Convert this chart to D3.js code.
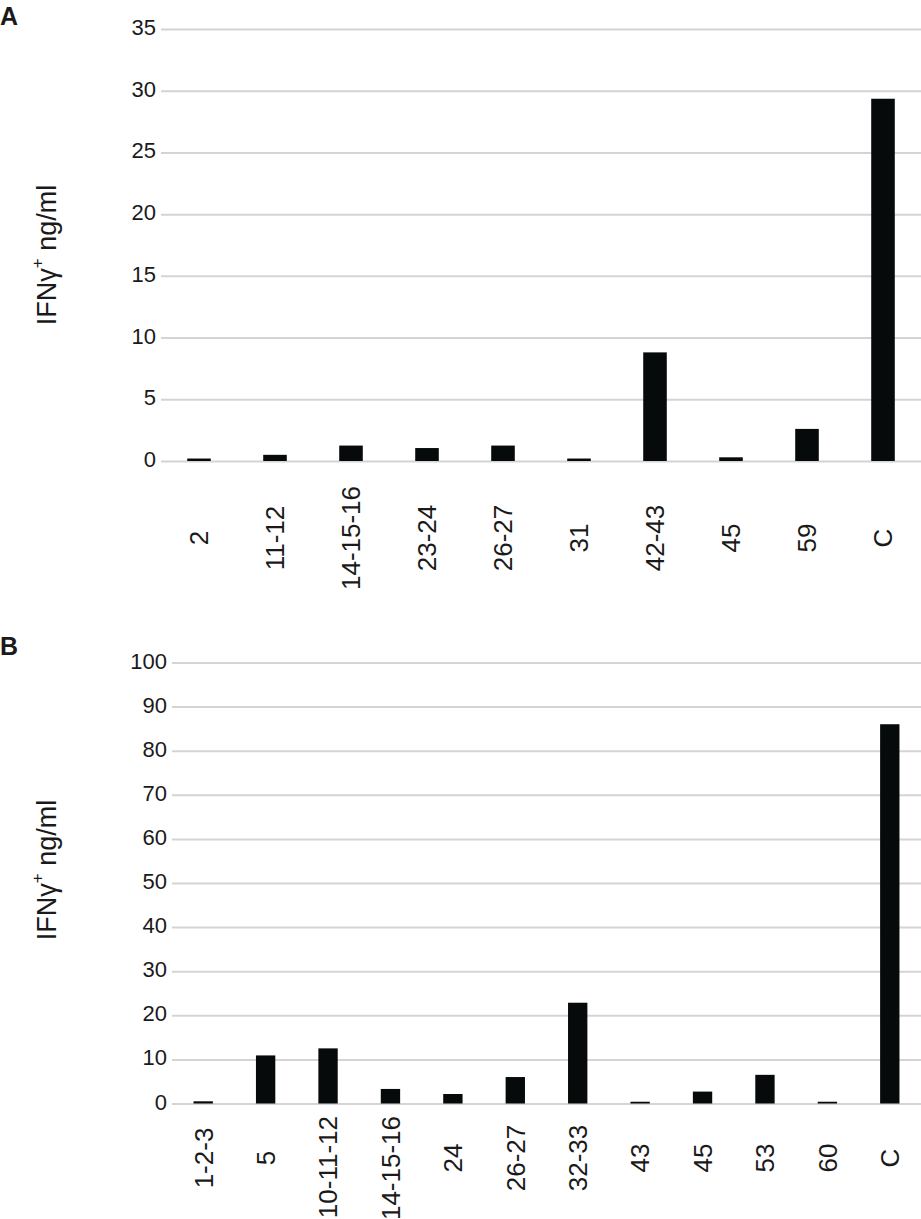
<!DOCTYPE html>
<html>
<head>
<meta charset="utf-8">
<script src="https://cdn.jsdelivr.net/npm/d3@7"></script>
<style>
  html, body { margin: 0; padding: 0; background: #fff; }
  svg { display: block; }
  text { font-family: "Liberation Sans", Arial, Helvetica, sans-serif; fill: #1a1a1a; }
</style>
</head>
<body>
<svg id="chart" width="921" height="1219"></svg>
<script>
// ---- Data ----
const categoriesA = ["2", "11-12", "14-15-16", "23-24", "26-27", "31", "42-43", "45", "59", "C"];
const valuesA     = [0.2, 0.5, 1.25, 1.05, 1.25, 0.2, 8.8, 0.3, 2.6, 29.35];
const ticksA      = [0, 5, 10, 15, 20, 25, 30, 35];

const categoriesB = ["1-2-3", "5", "10-11-12", "14-15-16", "24", "26-27", "32-33", "43", "45", "53", "60", "C"];
const valuesB     = [0.5, 10.9, 12.5, 3.3, 2.15, 6.0, 22.85, 0.4, 2.7, 6.5, 0.4, 86.0];
const ticksB      = [0, 10, 20, 30, 40, 50, 60, 70, 80, 90, 100];

const yTitle = "IFNγ";
const yTitleSup = "+";
const yTitleRest = " ng/ml";

const svg = d3.select("#chart");

function panel(cfg) {
  const g = svg.append("g");
  const x = d3.scaleBand().domain(cfg.categories).range([cfg.left, cfg.right])
    .paddingInner(0.69).paddingOuter(0.345);
  const y = d3.scaleLinear().domain([0, cfg.max]).range([cfg.bottom, cfg.top]);

  // axis + gridlines
  const ax = g.append("g").attr("transform", `translate(${cfg.left},0)`)
    .call(d3.axisLeft(y).tickValues(cfg.ticks).tickSize(-(cfg.right - cfg.left)).tickPadding(5).tickFormat(d3.format("d")));
  ax.select(".domain").remove();
  ax.selectAll(".tick line").attr("stroke", "#d4d4d4").attr("stroke-width", 2);
  ax.selectAll(".tick text").attr("font-size", 22).attr("fill", "#1a1a1a")
    .attr("dy", "0.25em").style("font-family", '"Liberation Sans", Arial, sans-serif');

  // bars
  g.selectAll("rect.bar").data(cfg.values).join("rect")
    .attr("class", "bar")
    .attr("x", (d, i) => x(cfg.categories[i]))
    .attr("width", x.bandwidth())
    .attr("y", d => y(d))
    .attr("height", d => y(0) - y(d))
    .attr("fill", "#060a0a");

  // category labels (rotated)
  const lbl = g.selectAll("text.cat").data(cfg.categories).join("text")
    .attr("class", "cat")
    .attr("font-size", 26)
    .attr("text-anchor", "middle")
    .attr("dy", "0.358em")
    .text(d => d);
  lbl.each(function(d) {
    const len = this.getComputedTextLength();
    const cx = x(d) + x.bandwidth() / 2;
    const cy = Math.max(cfg.labelCenter, cfg.labelTop + len / 2);
    d3.select(this).attr("transform", `translate(${cx},${cy}) rotate(-90)`);
  });

  // y title
  const t = g.append("text")
    .attr("transform", `translate(56,${cfg.titleCenter}) rotate(-90)`)
    .attr("text-anchor", "middle")
    .attr("font-size", 27);
  t.append("tspan").text(yTitle);
  t.append("tspan").attr("font-size", 17).attr("dy", "-0.75em").text(yTitleSup);
  t.append("tspan").attr("dy", "0.48em").text(yTitleRest);

  // panel letter
  g.append("text").attr("x", 0).attr("y", cfg.letterY)
    .attr("font-size", 25).attr("font-weight", "bold").attr("fill", "#000")
    .text(cfg.letter);
}

panel({
  categories: categoriesA, values: valuesA, ticks: ticksA, max: 35,
  left: 161, right: 921, top: 29, bottom: 461,
  labelCenter: 538, labelTop: 483, titleCenter: 255, letter: "A", letterY: 25
});

panel({
  categories: categoriesB, values: valuesB, ticks: ticksB, max: 100,
  left: 172, right: 921, top: 662.5, bottom: 1103.5,
  labelCenter: 1158, labelTop: 1116, titleCenter: 870, letter: "B", letterY: 655
});
</script>
</body>
</html>
